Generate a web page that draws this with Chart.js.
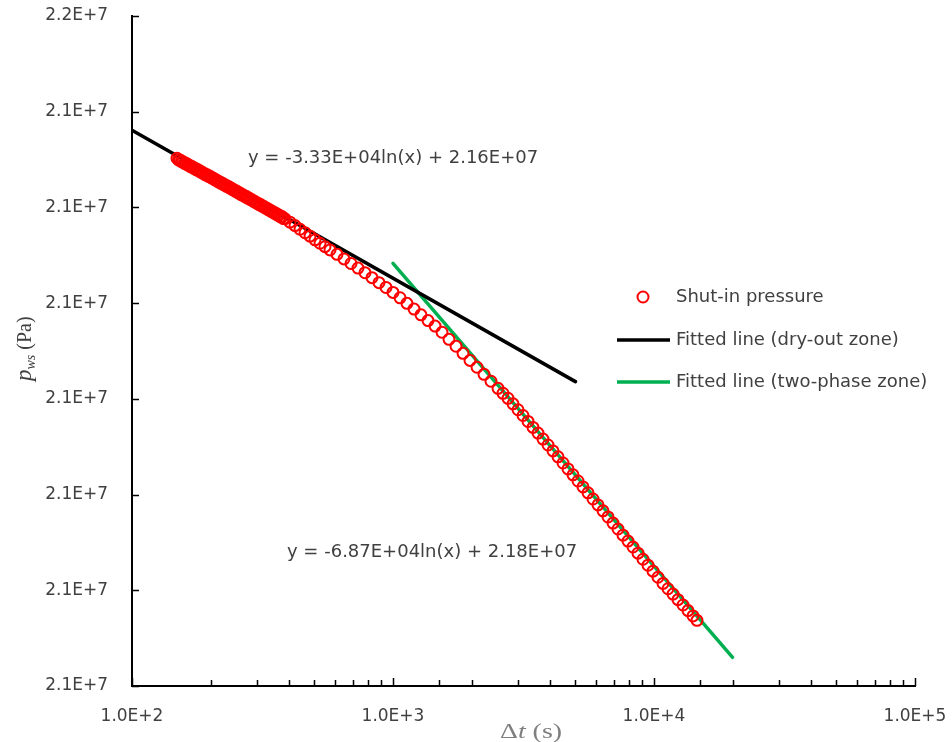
<!DOCTYPE html>
<html>
<head>
<meta charset="utf-8">
<script src="https://cdn.jsdelivr.net/npm/chart.js@4/dist/chart.umd.min.js"></script>
<style>
  html, body { margin: 0; padding: 0; background: #fff; }
  #wrap { width: 952px; height: 742px; }
</style>
</head>
<body>
<div id="wrap"><canvas id="pwsChart" width="952" height="742"></canvas></div>
<script>
// shut-in time (s) and pressure (Pa)
const shutInTime = [
    // early, densely sampled part
    148.7, 152.7, 156.8, 161.0, 165.3, 169.7, 174.3, 179.0, 183.8, 188.7,
    193.8, 199.0, 204.3, 209.8, 215.4, 221.2, 227.1, 233.2, 239.5, 245.9,
    252.5, 259.3, 266.2, 273.4, 280.7, 288.2, 296.0, 303.9, 312.1, 320.4,
    329.0, 337.9, 346.9, 356.2, 365.8, 375.6, 385.7,
    150.7, 154.7, 158.9, 163.1, 167.5, 172.0, 176.6, 181.4, 186.2, 191.2,
    196.4, 201.6, 207.0, 212.6, 218.3, 224.1, 230.1, 236.3, 242.7, 249.2,
    255.9, 262.7, 269.8, 277.0, 284.4, 292.1, 299.9, 308.0, 316.2, 324.7,
    333.4, 342.4, 351.6, 361.0, 370.7, 380.6,
    // later part
    403.1, 421.3, 440.3, 460.1, 480.9, 502.6, 525.3, 548.9, 573.7,
    610.2, 649.0, 690.4, 734.4, 781.2, 830.9, 883.9, 940.2, 1000, 1064,
    1131, 1204, 1280, 1362, 1449, 1541, 1639, 1744, 1855, 1973,
    2099, 2232, 2374, 2526,
    2639, 2758, 2883, 3013, 3149, 3291, 3439, 3594, 3756, 3926,
    4103, 4288, 4481, 4683, 4894, 5115, 5346, 5587, 5839, 6102,
    6377, 6665, 6965, 7279, 7607, 7950, 8309, 8684, 9075, 9484,
    9912, 10359, 10826, 11314, 11824, 12357, 12915, 13497, 14106, 14610
];
const shutInPressure = [
    21425700, 21424800, 21423900, 21423100, 21422200, 21421400, 21420500, 21419700, 21418800, 21417900,
    21417100, 21416300, 21415400, 21414500, 21413600, 21412800, 21411900, 21411100, 21410200, 21409300,
    21408400, 21407500, 21406600, 21405800, 21404900, 21404000, 21403100, 21402200, 21401400, 21400500,
    21399600, 21398700, 21397800, 21396900, 21396000, 21395200, 21394100,
    21424800, 21423900, 21423000, 21422200, 21421300, 21420500, 21419600, 21418800, 21417900, 21417000,
    21416200, 21415400, 21414500, 21413600, 21412700, 21411900, 21411000, 21410200, 21409300, 21408400,
    21407500, 21406600, 21405700, 21404900, 21404000, 21403100, 21402200, 21401300, 21400500, 21399600,
    21398700, 21397800, 21396900, 21396000, 21395100, 21394200,
    21392300, 21390500, 21388600, 21386800, 21385000, 21383100, 21381300, 21379500, 21377800,
    21375500, 21373100, 21370700, 21368300, 21365900, 21363300, 21360700, 21358200, 21355600, 21352800,
    21349900, 21346900, 21343900, 21340900, 21338000, 21334800, 21331100, 21327500, 21323800, 21320100,
    21316500, 21312800, 21309200, 21305500,
    21302900, 21300300, 21297400, 21294300, 21291300, 21288200, 21285100, 21282100, 21279000, 21275900,
    21272800, 21269700, 21266500, 21263400, 21260300, 21257100, 21254000, 21250900, 21247700, 21244600,
    21241500, 21238300, 21235100, 21232000, 21228800, 21225700, 21222600, 21219400, 21216200, 21213100,
    21210000, 21206800, 21203600, 21200800, 21198000, 21195100, 21192300, 21189400, 21186600, 21184300
];

// fitted lines, end points only
const dryOutX = [100, 5000];
const dryOutY = [21440300, 21309000];
const twoPhaseX = [1000, 20000];
const twoPhaseY = [21370800, 21165000];

const seriesLabels = ['Shut-in pressure', 'Fitted line (dry-out zone)', 'Fitted line (two-phase zone)'];
const equations = ['y = -3.33E+04ln(x) + 2.16E+07', 'y = -6.87E+04ln(x) + 2.18E+07'];

// axis ticks
const xTickValues = [100, 1000, 10000, 100000];
const xTickLabels = ['1.0E+2', '1.0E+3', '1.0E+4', '1.0E+5'];
const yMin = 21150000;
const yMax = 21500000;
const yStep = 50000;
const yTickLabels = ['2.1E+7', '2.1E+7', '2.1E+7', '2.1E+7', '2.1E+7', '2.1E+7', '2.1E+7', '2.2E+7'];

const toPoints = (xs, ys) => xs.map((x, i) => ({ x: x, y: ys[i] }));

const TEXT = '#404040';
const RED = '#ff0000';
const GREEN = '#00b050';

// draws a run of text pieces with different fonts, optionally stretched horizontally
function drawParts(ctx, parts, x, y, sx) {
    ctx.save();
    ctx.translate(x, y);
    ctx.scale(sx || 1, 1);
    let cx = 0;
    parts.forEach(p => {
        ctx.font = p.font;
        ctx.fillText(p.text, cx, p.dy || 0);
        cx += ctx.measureText(p.text).width;
    });
    ctx.restore();
}

// keep the plot area fixed: drop the extra room chart.js reserves for edge labels
const noEdgePadding = (scale) => {
    scale.paddingTop = 0;
    scale.paddingBottom = 0;
    scale.paddingLeft = 0;
    scale.paddingRight = 0;
};

const extrasPlugin = {
    id: 'extras',
    afterDraw(chart) {
        const ctx = chart.ctx;
        const area = chart.chartArea;
        const xs = chart.scales.x;
        const ys = chart.scales.y;

        // inward tick marks
        ctx.save();
        ctx.strokeStyle = '#000';
        ctx.lineWidth = 1.5;
        ctx.beginPath();
        xs.ticks.forEach(t => {
            const px = Math.round(xs.getPixelForValue(t.value)) + 0.5;
            const major = xTickValues.includes(t.value);
            ctx.moveTo(px, area.bottom);
            ctx.lineTo(px, area.bottom - (major ? 8 : 6));
        });
        ys.ticks.forEach(t => {
            const py = Math.round(ys.getPixelForValue(t.value)) + 0.5;
            ctx.moveTo(area.left, py);
            ctx.lineTo(area.left + 7, py);
        });
        ctx.stroke();
        ctx.restore();

        // y axis title: p_ws (Pa)
        ctx.save();
        ctx.fillStyle = TEXT;
        ctx.textBaseline = 'alphabetic';
        ctx.translate(31, 381);
        ctx.rotate(-Math.PI / 2);
        drawParts(ctx, [
            { text: 'p', font: 'italic 23px "Liberation Serif"' },
            { text: 'ws', font: 'italic 14px "Liberation Serif"', dy: 4 },
            { text: ' (Pa)', font: '20px "Liberation Serif"' }
        ], 0, 0, 1);
        ctx.restore();

        // x axis title: Δt (s)
        ctx.save();
        ctx.fillStyle = '#7f7f7f';
        ctx.textBaseline = 'alphabetic';
        const xParts = [
            { text: 'Δ', font: '20px "Liberation Serif"' },
            { text: 't', font: 'italic 20px "Liberation Serif"' },
            { text: ' (s)', font: '20px "Liberation Serif"' }
        ];
        let w = 0;
        xParts.forEach(p => { ctx.font = p.font; w += ctx.measureText(p.text).width; });
        drawParts(ctx, xParts, 500, 738, 62 / w);
        ctx.restore();

        // trendline equations
        ctx.save();
        ctx.fillStyle = TEXT;
        ctx.font = '18px "DejaVu Sans"';
        ctx.textBaseline = 'middle';
        ctx.fillText(equations[0], 248, 158);
        ctx.fillText(equations[1], 287, 552);
        ctx.restore();

        // legend
        ctx.save();
        const ds = chart.data.datasets;
        const rows = [297, 340, 382];
        ctx.font = '18px "DejaVu Sans"';
        ctx.textBaseline = 'middle';
        ctx.fillStyle = TEXT;
        ds.forEach((d, i) => {
            const y = rows[i];
            ctx.beginPath();
            ctx.strokeStyle = d.borderColor;
            if (i === 0) {
                ctx.lineWidth = 2;
                ctx.arc(643, y, 5.5, 0, Math.PI * 2);
            } else {
                ctx.lineWidth = 3.5;
                ctx.moveTo(617, y);
                ctx.lineTo(670, y);
            }
            ctx.stroke();
            ctx.fillText(d.label, 676, y);
        });
        ctx.restore();
    }
};

const ctx = document.getElementById('pwsChart').getContext('2d');
const chart = new Chart(ctx, {
    type: 'scatter',
    data: {
        datasets: [
            {
                label: seriesLabels[0],
                data: toPoints(shutInTime, shutInPressure),
                borderColor: RED,
                backgroundColor: 'rgba(0,0,0,0)',
                pointRadius: 5.5,
                pointBorderWidth: 2,
                showLine: false,
                order: 0
            },
            {
                label: seriesLabels[1],
                data: toPoints(dryOutX, dryOutY),
                borderColor: '#000000',
                borderWidth: 3.5,
                borderCapStyle: 'round',
                pointRadius: 0,
                showLine: true,
                order: 1
            },
            {
                label: seriesLabels[2],
                data: toPoints(twoPhaseX, twoPhaseY),
                borderColor: GREEN,
                borderWidth: 3.5,
                borderCapStyle: 'round',
                pointRadius: 0,
                showLine: true,
                order: 2
            }
        ]
    },
    options: {
        responsive: false,
        animation: false,
        layout: { padding: { left: 0, top: 16, right: 37, bottom: 0 } },
        plugins: {
            legend: { display: false },
            tooltip: { enabled: false }
        },
        scales: {
            x: {
                type: 'logarithmic',
                min: 100,
                max: 100000,
                grid: { display: false, drawTicks: false },
                border: { display: true, color: '#000', width: 2 },
                ticks: {
                    autoSkip: false,
                    maxRotation: 0,
                    padding: 20,
                    color: TEXT,
                    font: { family: 'DejaVu Sans', size: 17 },
                    callback: (value) => {
                        const i = xTickValues.indexOf(value);
                        return i >= 0 ? xTickLabels[i] : '';
                    }
                },
                afterFit: (scale) => { scale.height = 56; noEdgePadding(scale); }
            },
            y: {
                min: yMin,
                max: yMax,
                grid: { display: false, drawTicks: false },
                border: { display: true, color: '#000', width: 2 },
                ticks: {
                    stepSize: yStep,
                    padding: 24,
                    color: TEXT,
                    font: { family: 'DejaVu Sans', size: 17 },
                    callback: (value, index) => yTickLabels[index]
                },
                afterFit: (scale) => { scale.width = 132; noEdgePadding(scale); }
            }
        }
    },
    plugins: [extrasPlugin]
});
</script>
</body>
</html>
